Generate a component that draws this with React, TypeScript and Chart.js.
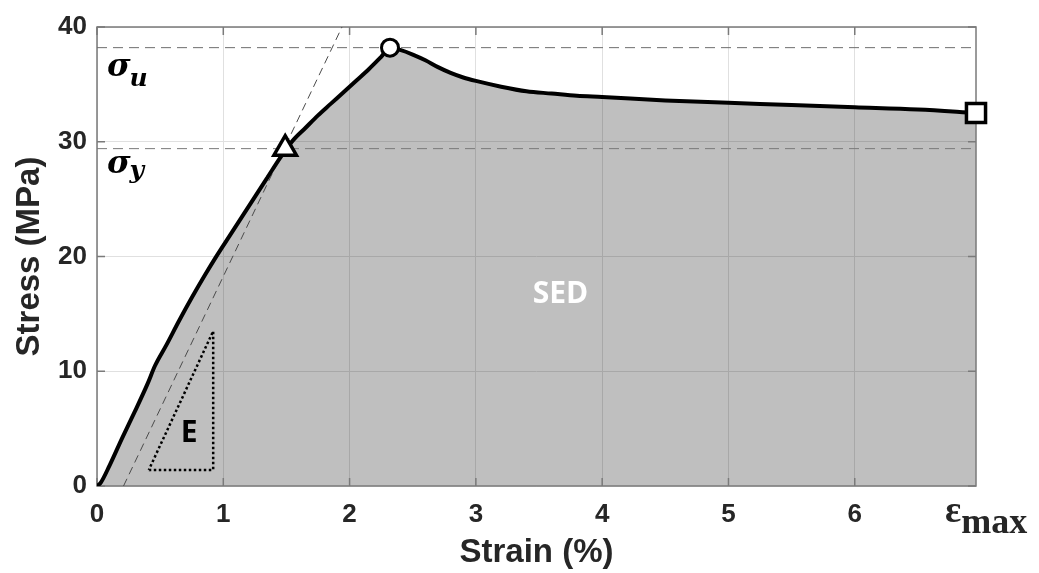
import React, { useEffect, useRef } from 'react';
import { Chart, registerables } from 'chart.js';

Chart.register(...registerables);

// ---- data ----
const strain = [0, 0.03, 0.1, 0.2, 0.3, 0.4, 0.46, 0.55, 0.65, 0.75, 0.85, 0.95, 1.05, 1.15, 1.25, 1.35, 1.45, 1.55, 1.65, 1.75, 1.85, 1.95, 2.05, 2.15, 2.25, 2.32, 2.4, 2.5, 2.6, 2.7, 2.8, 2.9, 3.0, 3.2, 3.4, 3.6, 3.8, 4.0, 4.5, 5.0, 5.5, 6.0, 6.5, 6.96];
const stress = [0, 0.3, 1.8, 4.2, 6.5, 8.9, 10.5, 12.3, 14.4, 16.4, 18.3, 20.1, 21.8, 23.5, 25.2, 26.9, 28.6, 30.1, 31.2, 32.3, 33.3, 34.3, 35.3, 36.3, 37.4, 38.2, 38.0, 37.6, 37.1, 36.5, 36.0, 35.6, 35.3, 34.8, 34.4, 34.2, 34.0, 33.9, 33.6, 33.4, 33.2, 33.0, 32.8, 32.5];

const sigmaU = 38.2;
const sigmaY = 29.4;
const epsMax = 6.96;
const yieldPoint = [1.49, 29.4];
const ultimatePoint = [2.32, 38.2];
const failurePoint = [6.96, 32.5];

const tangentX = [0.21, 1.94];
const tangentY = [0, 40];

const slopeTriX = [0.41, 0.92, 0.92, 0.41];
const slopeTriY = [1.4, 1.4, 13.5, 1.4];

const xTickValues = [0, 1, 2, 3, 4, 5, 6];
const yTickValues = [0, 10, 20, 30, 40];

const xTitle = 'Strain (%)';
const yTitle = 'Stress (MPa)';

const TEXT = '#262626';
const BOX = '#7a7a7a';

const pts = (xs: number[], ys: number[]) => xs.map((x, i) => ({ x, y: ys[i] }));

const boxPlugin = {
  id: 'boxTicks',
  beforeDatasetsDraw(chart: any) {
    const { ctx, chartArea: a, scales } = chart;
    ctx.save();
    ctx.strokeStyle = BOX;
    ctx.lineWidth = 1.5;
    ctx.strokeRect(a.left, a.top, a.right - a.left, a.bottom - a.top);
    const tl = 8;
    ctx.beginPath();
    xTickValues.forEach((v) => {
      const px = scales.x.getPixelForValue(v);
      ctx.moveTo(px, a.bottom);
      ctx.lineTo(px, a.bottom - tl);
      ctx.moveTo(px, a.top);
      ctx.lineTo(px, a.top + tl);
    });
    yTickValues.forEach((v) => {
      const py = scales.y.getPixelForValue(v);
      ctx.moveTo(a.left, py);
      ctx.lineTo(a.left + tl, py);
      ctx.moveTo(a.right, py);
      ctx.lineTo(a.right - tl, py);
    });
    ctx.stroke();
    ctx.restore();
  },
};

const labelPlugin = {
  id: 'labels',
  afterDraw(chart: any) {
    const { ctx, chartArea: a, scales } = chart;
    const xs = scales.x;
    const ys = scales.y;
    ctx.save();
    ctx.textAlign = 'left';
    ctx.textBaseline = 'alphabetic';
    ctx.fillStyle = '#000';

    // sigma_u
    const sx = a.left + 10;
    let by = ys.getPixelForValue(sigmaU) + 28;
    ctx.font = 'italic bold 32px "DejaVu Serif"';
    ctx.fillText('σ', sx, by);
    let w = ctx.measureText('σ').width;
    ctx.font = 'italic bold 25px "DejaVu Serif"';
    ctx.fillText('u', sx + w - 1, by + 10);

    // sigma_y
    by = ys.getPixelForValue(sigmaY) + 24;
    ctx.font = 'italic bold 32px "DejaVu Serif"';
    ctx.fillText('σ', sx, by);
    w = ctx.measureText('σ').width;
    ctx.font = 'italic bold 25px "DejaVu Serif"';
    ctx.fillText('y', sx + w - 1, by + 5);

    // epsilon max
    const ex = xs.getPixelForValue(epsMax) - 31;
    ctx.fillStyle = TEXT;
    ctx.font = 'bold 38px "Liberation Serif"';
    ctx.fillText('ε', ex, a.bottom + 36);
    w = ctx.measureText('ε').width;
    ctx.font = 'bold 36px "Liberation Serif"';
    ctx.fillText('max', ex + w, a.bottom + 47);

    // E
    ctx.textAlign = 'center';
    ctx.textBaseline = 'middle';
    ctx.fillStyle = '#000';
    ctx.font = 'bold 30px "Open Sans"';
    ctx.fillText('E', xs.getPixelForValue(0.73), ys.getPixelForValue(4.6));

    // SED
    ctx.fillStyle = '#fff';
    ctx.font = 'bold 30px "Open Sans"';
    ctx.fillText('SED', xs.getPixelForValue(3.67), ys.getPixelForValue(16.7));
    ctx.restore();
  },
};

export default function App() {
  const ref = useRef<HTMLCanvasElement | null>(null);
  useEffect(() => {
    document.body.style.margin = '0';
    const c = ref.current;
    if (!c) return;
    const tickFont = { family: '"Liberation Sans", Arial, sans-serif', size: 26, weight: 'bold' as const };
    const titleFont = { family: '"Liberation Sans", Arial, sans-serif', size: 33, weight: 'bold' as const };
    const chart = new Chart(c, {
      type: 'scatter',
      data: {
        datasets: [
          {
            label: 'yield',
            data: [{ x: yieldPoint[0], y: yieldPoint[1] }],
            pointStyle: 'triangle',
            pointRadius: 13,
            pointBorderWidth: 3.5,
            pointBackgroundColor: '#fff',
            pointBorderColor: '#000',
            showLine: false,
            order: 0,
            clip: false,
          } as any,
          {
            label: 'ultimate',
            data: [{ x: ultimatePoint[0], y: ultimatePoint[1] }],
            pointStyle: 'circle',
            pointRadius: 8.5,
            pointBorderWidth: 3,
            pointBackgroundColor: '#fff',
            pointBorderColor: '#000',
            showLine: false,
            order: 0,
            clip: false,
          },
          {
            label: 'failure',
            data: [{ x: failurePoint[0], y: failurePoint[1] }],
            pointStyle: 'rect',
            pointRadius: 13.5,
            pointBorderWidth: 3.5,
            pointBackgroundColor: '#fff',
            pointBorderColor: '#000',
            showLine: false,
            order: 0,
            clip: false,
          },
          {
            label: 'curve',
            data: pts(strain, stress),
            showLine: true,
            borderColor: '#000',
            borderWidth: 4,
            pointRadius: 0,
            cubicInterpolationMode: 'monotone',
            fill: 'origin',
            backgroundColor: 'rgba(0,0,0,0.25)',
            order: 1,
          },
          {
            label: 'sigmaU',
            data: [{ x: 0, y: sigmaU }, { x: epsMax, y: sigmaU }],
            showLine: true,
            borderColor: '#6e6e6e',
            borderWidth: 1,
            borderDash: [10, 6],
            pointRadius: 0,
            fill: false,
            order: 2,
          },
          {
            label: 'sigmaY',
            data: [{ x: 0, y: sigmaY }, { x: epsMax, y: sigmaY }],
            showLine: true,
            borderColor: '#7a7a7a',
            borderWidth: 1,
            borderDash: [10, 6],
            pointRadius: 0,
            fill: false,
            order: 2,
          },
          {
            label: 'tangent',
            data: pts(tangentX, tangentY),
            showLine: true,
            borderColor: '#4a4a4a',
            borderWidth: 1,
            borderDash: [8, 5],
            pointRadius: 0,
            fill: false,
            order: 2,
          },
          {
            label: 'slope',
            data: pts(slopeTriX, slopeTriY),
            showLine: true,
            borderColor: '#000',
            borderWidth: 2.5,
            borderDash: [2.5, 2.5],
            pointRadius: 0,
            fill: false,
            order: 2,
          },
        ],
      },
      options: {
        animation: false,
        responsive: false,
        devicePixelRatio: 1,
        layout: { padding: { left: 0, right: 63, top: 27, bottom: 0 } },
        plugins: {
          legend: { display: false },
          tooltip: { enabled: false },
          filler: { drawTime: 'beforeDatasetsDraw' },
        } as any,
        scales: {
          x: {
            type: 'linear',
            min: 0,
            max: epsMax,
            afterFit: (s: any) => { s.height = 87; },
            ticks: {
              stepSize: 1,
              includeBounds: false,
              padding: 13,
              color: TEXT,
              font: tickFont,
              maxRotation: 0,
            },
            grid: { color: '#e0e0e0', lineWidth: 1, drawTicks: false },
            border: { display: false },
            title: { display: true, text: xTitle, color: TEXT, font: titleFont, padding: { top: 0, bottom: 0 } },
          },
          y: {
            type: 'linear',
            min: 0,
            max: 40,
            afterFit: (s: any) => { s.width = 97; },
            ticks: {
              stepSize: 10,
              padding: 10,
              color: TEXT,
              font: tickFont,
            },
            grid: { color: '#e0e0e0', lineWidth: 1, drawTicks: false },
            border: { display: false },
            title: { display: true, text: yTitle, color: TEXT, font: titleFont, padding: { top: 10, bottom: 0 } },
          },
        },
      },
      plugins: [boxPlugin, labelPlugin],
    });
    return () => chart.destroy();
  }, []);
  return (
    <div style={{ position: 'absolute', left: 0, top: 0, width: 1039, height: 573, background: '#fff' }}>
      <canvas ref={ref} width={1039} height={573} style={{ width: 1039, height: 573, display: 'block' }} />
    </div>
  );
}
